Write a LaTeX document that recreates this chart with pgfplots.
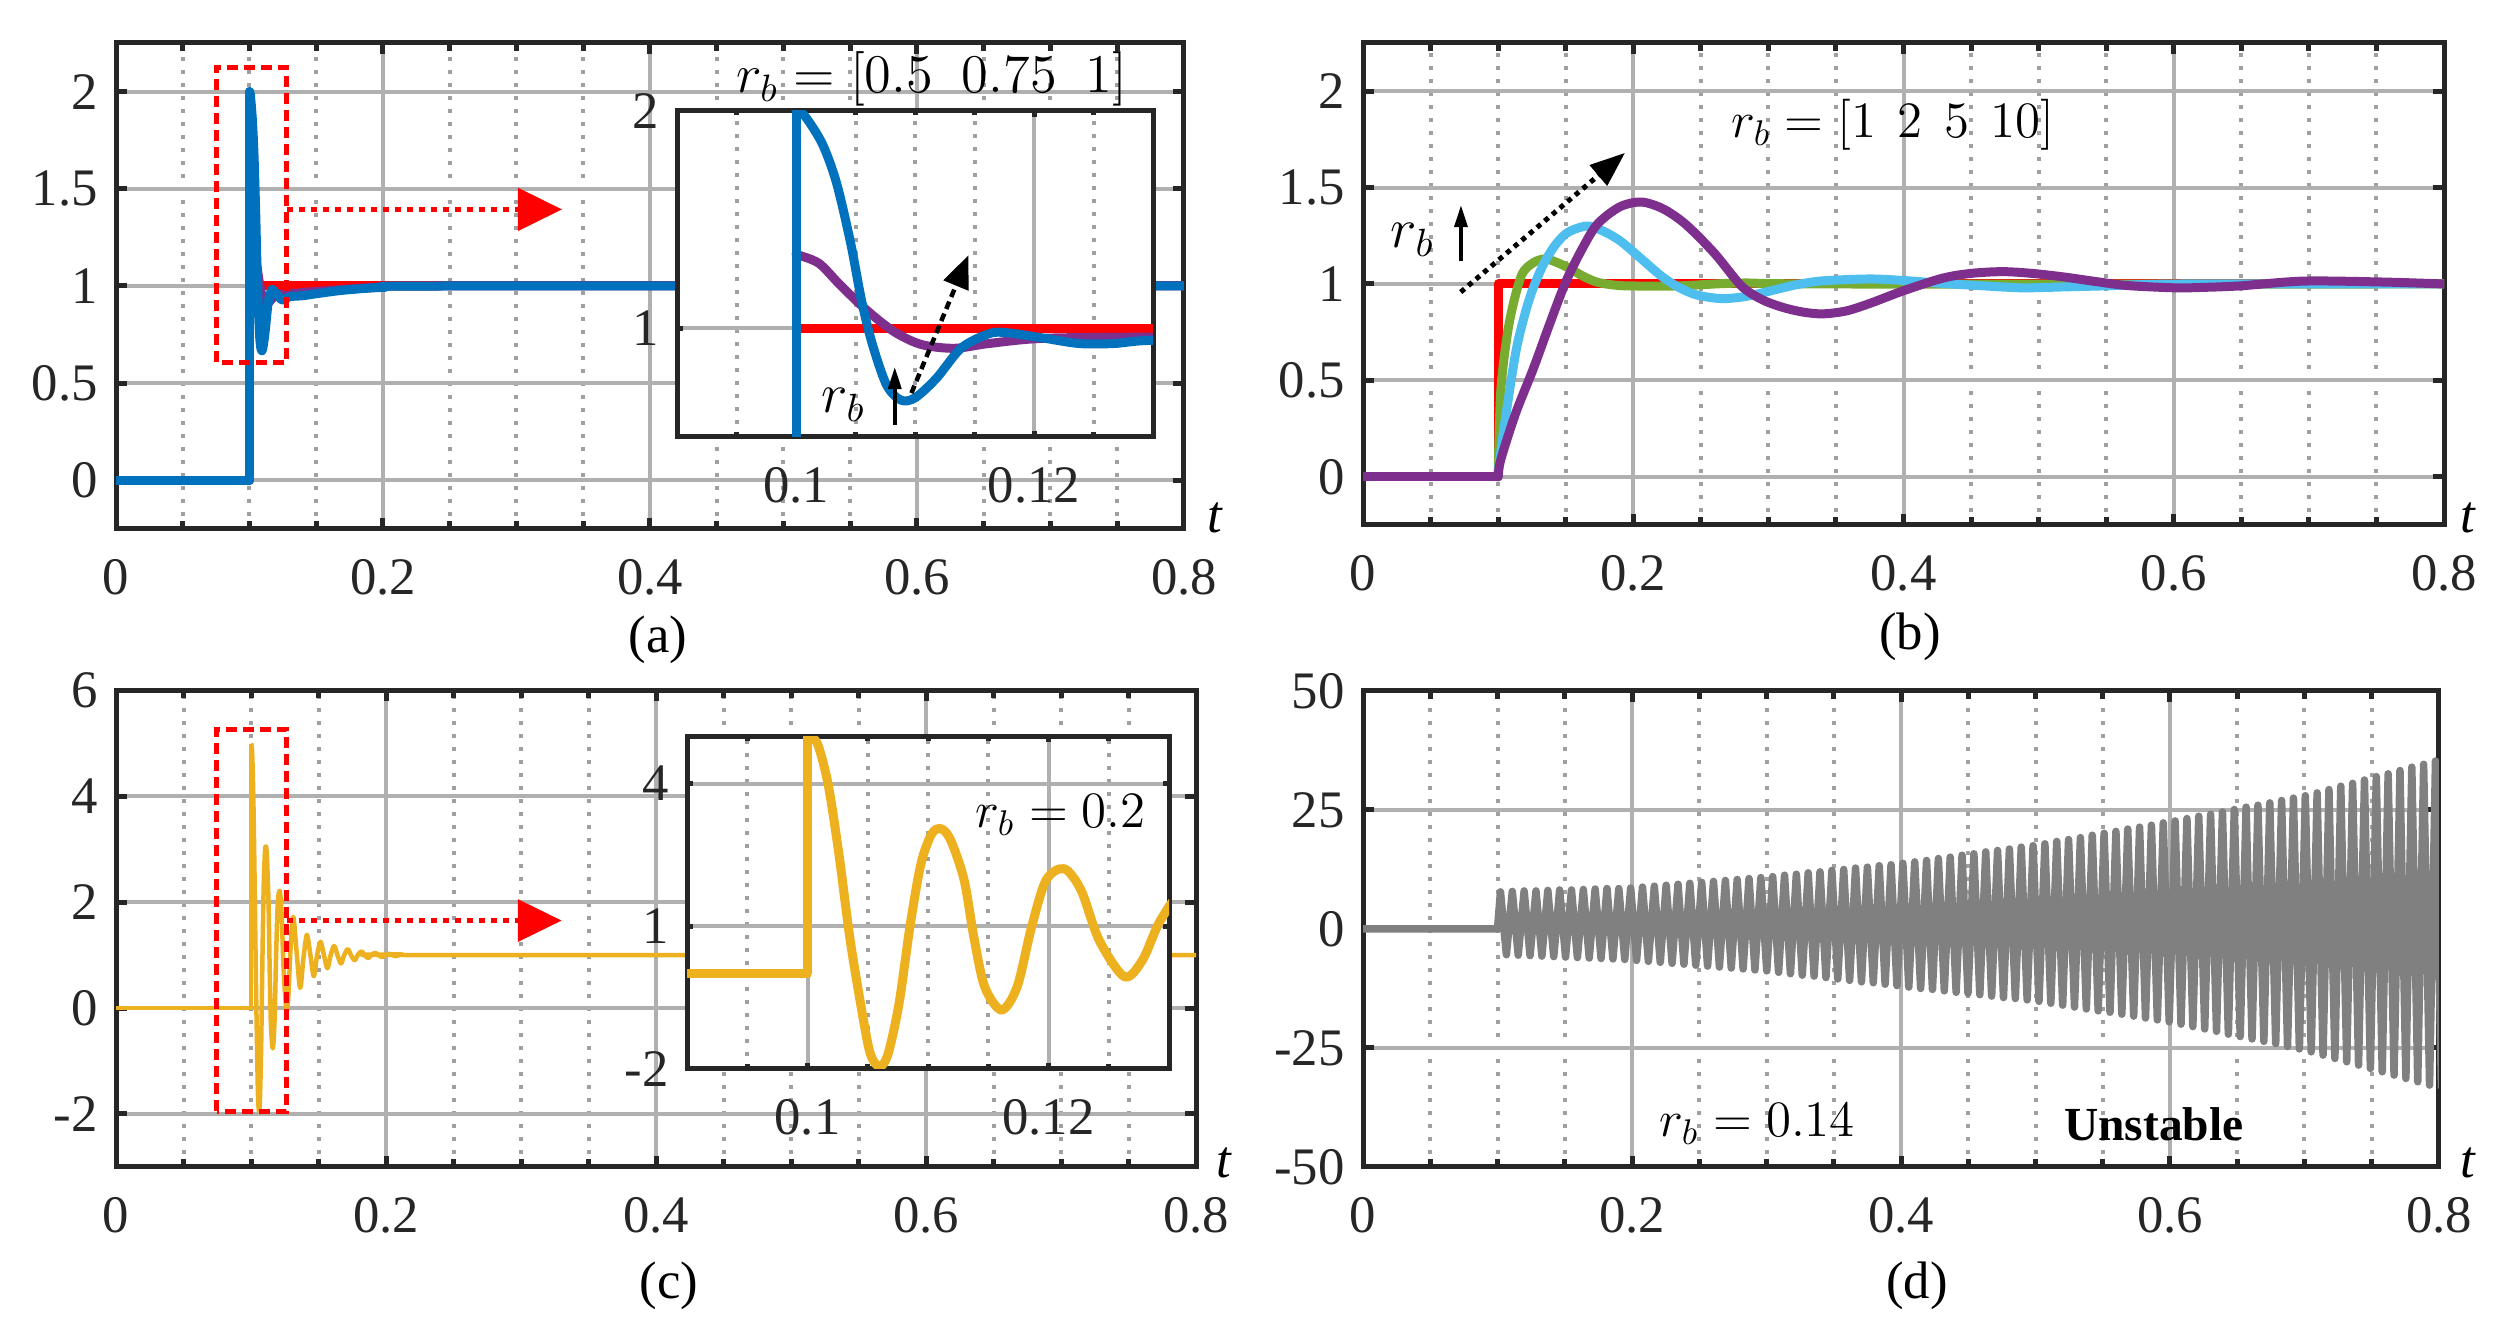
\RequirePackage{fix-cm}
\documentclass[border=0pt]{standalone}
\usepackage[no-math]{fontspec}
\setmainfont{Liberation Serif}
\usepackage{pgfplots}
\pgfplotsset{compat=1.18}
\usepackage{pgfplotstable}
\usetikzlibrary{arrows.meta}

\definecolor{mblue}{HTML}{0072BD}
\definecolor{mpurple}{HTML}{7E2F8E}
\definecolor{mgreen}{HTML}{77AC30}
\definecolor{mcyan}{HTML}{4DBEEE}
\definecolor{myellow}{HTML}{EDB120}
\definecolor{mgray}{HTML}{808080}
\definecolor{mred}{HTML}{FF0000}
\definecolor{axcol}{HTML}{262626}
\definecolor{gridcol}{HTML}{B0B0B0}
\definecolor{dotcol}{HTML}{A0A0A0}

\newcommand{\lbl}{\fontsize{15}{18}\selectfont}
\newcommand{\mlbl}{\fontsize{14.5}{17}\selectfont}

\pgfplotsset{
  panel/.style={
    scale only axis, anchor=south west,
    axis line style={line width=0.5mm, draw=axcol},
    tick style={line width=0.5mm, draw=axcol},
    tick align=inside,
    major tick length=1.1mm, minor tick length=0.8mm,
    xmajorgrids, xminorgrids, ymajorgrids,
    major grid style={line width=0.4mm, draw=gridcol, solid},
    minor grid style={line width=0.4mm, draw=dotcol, dash pattern=on 0.4mm off 0.9mm},
    tick label style={font=\lbl, text=axcol},
    /pgf/number format/assume math mode=true,
    xticklabel style={yshift=-1.8mm},
    yticklabel style={xshift=-0.6mm},
    clip mode=individual,
    axis background/.style={fill=white},
  },
  tpanel/.style={panel, xmin=0, xmax=0.8, xtick={0,0.2,0.4,0.6,0.8}, minor x tick num=3},
  inset/.style={panel, major tick length=0.6mm, minor tick length=0.45mm,
    xmin=0.09, xmax=0.13, xtick={0.1,0.12},
    minor xtick={0.095,0.105,0.11,0.115,0.125}},
  curve/.style={line width=0.9mm, line join=round, line cap=round},
}

% (a) responses after the step, r_b = 0.5 / 0.75 / 1
\pgfplotstableread{
t y
0.1 2.0
0.1007 1.98
0.1022 1.85
0.1034 1.67
0.1046 1.39
0.1055 1.13
0.1064 0.93
0.1076 0.74
0.1088 0.67
0.1100 0.68
0.1118 0.77
0.1139 0.91
0.1162 0.975
0.1177 0.98
0.1208 0.955
0.1238 0.93
0.1267 0.93
0.1300 0.945
0.1400 0.95
0.1500 0.96
0.1700 0.978
0.2000 0.993
0.2500 1.0
0.8000 1.0
}\ablue
\pgfplotstableread{
t y
0.1 1.34
0.1019 1.30
0.1037 1.20
0.1058 1.09
0.1082 0.986
0.1105 0.926
0.1133 0.908
0.1162 0.93
0.1208 0.954
0.1300 0.96
0.1500 0.972
0.2000 0.995
0.2500 1.0
0.8000 1.0
}\apurple

% (b) r_b = 1 2 5 10
\pgfplotstableread{
t y
0.1 0
0.102 0.45
0.108 0.79
0.117 1.04
0.126 1.11
0.135 1.13
0.144 1.11
0.153 1.08
0.163 1.04
0.173 1.01
0.185 0.995
0.197 0.99
0.233 0.99
0.28 1.005
0.35 1.0
0.8 1.0
}\bgreen
\pgfplotstableread{
t y
0.1 0
0.101 0.08
0.107 0.38
0.114 0.68
0.123 0.92
0.132 1.08
0.141 1.19
0.150 1.26
0.159 1.29
0.1675 1.30
0.179 1.27
0.191 1.22
0.206 1.13
0.221 1.04
0.233 0.985
0.245 0.947
0.257 0.93
0.268 0.924
0.283 0.935
0.298 0.958
0.32 0.995
0.34 1.016
0.375 1.026
0.40 1.018
0.429 1.003
0.46 0.99
0.488 0.98
0.52 0.985
0.548 0.99
0.607 1.0
0.8 1.0
}\bcyan
\pgfplotstableread{
t y
0.1 0
0.102 0.09
0.113 0.33
0.126 0.56
0.138 0.79
0.150 1.01
0.162 1.18
0.1734 1.31
0.19 1.40
0.206 1.425
0.222 1.39
0.2387 1.31
0.26 1.16
0.28 0.99
0.295 0.92
0.31 0.88
0.325 0.855
0.34 0.845
0.3575 0.86
0.3754 0.90
0.40 0.965
0.4288 1.03
0.45 1.055
0.4734 1.064
0.495 1.055
0.518 1.037
0.54 1.015
0.5655 0.992
0.6011 0.98
0.62 0.982
0.6487 0.99
0.6962 1.015
0.7556 1.01
0.8 1.0
}\bpurple

% (c) r_b = 0.2
\pgfplotstableread{
t y
0.1 4.99
0.1008 4.85
0.1017 4.0
0.1026 2.53
0.1035 0.78
0.1044 -0.62
0.1052 -1.67
0.1060 -1.95
0.1067 -1.67
0.1076 -0.62
0.1085 0.99
0.1094 2.3
0.1103 2.94
0.1111 3.05
0.1119 2.8
0.1130 1.97
0.1138 0.78
0.1147 -0.27
0.1161 -0.76
0.1174 -0.27
0.1186 0.99
0.1198 1.97
0.1213 2.21
0.1227 1.76
0.1242 0.71
0.1263 -0.06
0.1278 0.29
0.1293 1.13
0.1313 1.72
0.1338 1.05
0.1364 0.38
0.1389 0.95
0.1414 1.38
0.1440 1.0
0.1465 0.6
0.1490 1.0
0.1515 1.25
0.1540 1.0
0.1566 0.75
0.1590 1.0
0.1616 1.17
0.1640 1.0
0.1667 0.84
0.1690 1.0
0.1717 1.11
0.1740 1.0
0.1768 0.9
0.1790 1.0
0.1818 1.07
0.1840 1.0
0.1869 0.94
0.1890 1.0
0.1920 1.04
0.1945 1.0
0.1970 0.96
0.2000 1.0
0.2020 1.025
0.2070 0.98
0.2120 1.01
0.2200 1.0
0.8000 1.0
}\cyel

\begin{document}
\begin{tikzpicture}
\path[use as bounding box] (0,0) rectangle (251.7mm,132.8mm);

% ---------------- (a)
\begin{axis}[tpanel, at={(11.6mm,79.9mm)}, width=106.8mm, height=48.6mm,
  ymin=-0.25, ymax=2.25, ytick={0,0.5,1,1.5,2}]
  \addplot[curve, mred] coordinates {(0,0)(0.1,0)(0.1,1)(0.8,1)};
  \addplot[curve, mpurple] coordinates {(0,0)(0.1,0)(0.1,1.34)};
  \addplot[curve, mpurple, smooth, tension=0.5] table {\apurple};
  \addplot[curve, mblue] coordinates {(0,0)(0.1,0)(0.1,2.0)};
  \addplot[curve, mblue, smooth, tension=0.5] table {\ablue};
  \draw[mred, line width=0.5mm, dash pattern=on 1.1mm off 0.6mm]
    (axis cs:0.0753,0.607) rectangle (axis cs:0.1278,2.125);
  \draw[mred, line width=0.5mm, dash pattern=on 0.6mm off 0.6mm]
    (axis cs:0.1278,1.394) -- (axis cs:0.301,1.394);
  \fill[mred] (axis cs:0.301,1.282) -- (axis cs:0.334,1.394) -- (axis cs:0.301,1.506) -- cycle;
  \node[font=\fontsize{15.5}{18}\selectfont] at (axis cs:0.611,2.063) {$r_b=[0.5\ \;0.75\ \;1]$};
\end{axis}
\begin{axis}[inset, at={(67.7mm,89.1mm)}, width=47.6mm, height=32.6mm,
  ymin=0.5, ymax=2, ytick={1,2}]
  \addplot[curve, mred] coordinates {(0.09,0)(0.1,0)(0.1,1)(0.13,1)};
  \addplot[curve, mpurple] coordinates {(0.09,0)(0.1,0)(0.1,1.34)};
  \addplot[curve, mpurple, smooth, tension=0.5] table {\apurple};
  \addplot[curve, mblue] coordinates {(0.09,0)(0.1,0)(0.1,2.0)};
  \addplot[curve, mblue, smooth, tension=0.5] table {\ablue};
  \draw[-{Triangle[length=3.3mm,width=2.6mm]}, line width=0.45mm, dash pattern=on 0.8mm off 0.5mm]
    (axis cs:0.1097,0.702) -- (axis cs:0.1145,1.337);
  \draw[-{Triangle[length=2.2mm,width=1.3mm]}, line width=0.35mm]
    (axis cs:0.1083,0.555) -- (axis cs:0.1083,0.822);
  \node[font=\fontsize{16}{18}\selectfont] at (axis cs:0.104,0.647) {$r_b$};
\end{axis}

% ---------------- (b)
\begin{axis}[tpanel, at={(136.3mm,80.3mm)}, width=108.1mm, height=48.2mm,
  ymin=-0.25, ymax=2.25, ytick={0,0.5,1,1.5,2}]
  \addplot[curve, mred] coordinates {(0,0)(0.1,0)(0.1,1)(0.8,1)};
  \addplot[curve, mgreen, smooth, tension=0.5] table {\bgreen};
  \addplot[curve, mcyan, smooth, tension=0.5] table {\bcyan};
  \addplot[curve, mpurple] coordinates {(0,0)(0.1,0)};
  \addplot[curve, mpurple, smooth, tension=0.5] table {\bpurple};
  \node[font=\mlbl] at (axis cs:0.392,1.825) {$r_b=[1\ \,2\ \,5\ \,10]$};
  \node[font=\fontsize{16}{18}\selectfont] at (axis cs:0.0366,1.229) {$r_b$};
  \draw[-{Triangle[length=2.2mm,width=1.3mm]}, line width=0.35mm]
    (axis cs:0.0725,1.118) -- (axis cs:0.0725,1.409);
  \draw[-{Triangle[length=3.5mm,width=2.6mm]}, line width=0.5mm, dash pattern=on 0.5mm off 0.5mm]
    (axis cs:0.0723,0.958) -- (axis cs:0.1939,1.68);
\end{axis}

% ---------------- (c)
\begin{axis}[tpanel, at={(11.6mm,16.1mm)}, width=108.0mm, height=47.7mm,
  ymin=-3, ymax=6, ytick={-2,0,2,4,6}]
  \addplot[line width=0.45mm, myellow, line join=round] coordinates {(0,0)(0.1,0)(0.1,4.99)};
  \addplot[line width=0.45mm, myellow, line join=round, smooth, tension=0.5] table {\cyel};
  \draw[mred, line width=0.5mm, dash pattern=on 1.1mm off 0.6mm]
    (axis cs:0.0746,-1.95) rectangle (axis cs:0.1264,5.25);
  \draw[mred, line width=0.5mm, dash pattern=on 0.6mm off 0.6mm]
    (axis cs:0.1264,1.65) -- (axis cs:0.2976,1.65);
  \fill[mred] (axis cs:0.2976,1.245) -- (axis cs:0.330,1.65) -- (axis cs:0.2976,2.055) -- cycle;
\end{axis}
\begin{axis}[inset, at={(68.7mm,25.9mm)}, width=48.2mm, height=33.3mm,
  ymin=-2, ymax=5, ytick={-2,1,4}]
  \addplot[curve, myellow] coordinates {(0.09,0)(0.1,0)(0.1,4.99)};
  \addplot[curve, myellow, smooth, tension=0.5] table {\cyel};
  \node[font=\mlbl] at (axis cs:0.121,3.34) {$r_b=0.2$};
\end{axis}

% ---------------- (d)
\begin{axis}[tpanel, at={(136.3mm,16.1mm)}, width=107.6mm, height=47.6mm,
  ymin=-50, ymax=50, ytick={-50,-25,0,25,50}]
  \addplot[line width=0.75mm, mgray, line join=round] coordinates {
  (0,0)(0.1,0)
  (0.1022,7.8)(0.1066,-5.4)(0.1110,7.9)(0.1154,-5.5)(0.1198,8.0)(0.1242,-5.6)
  (0.1286,8.0)(0.1330,-5.7)(0.1374,8.1)(0.1418,-5.8)(0.1462,8.2)(0.1506,-5.9)
  (0.1550,8.2)(0.1594,-6.0)(0.1638,8.3)(0.1682,-6.1)(0.1726,8.4)(0.1770,-6.2)
  (0.1814,8.5)(0.1858,-6.3)(0.1902,8.5)(0.1946,-6.4)(0.1990,8.6)(0.2034,-6.6)
  (0.2078,8.8)(0.2122,-6.8)(0.2166,9.0)(0.2210,-7.0)(0.2254,9.2)(0.2298,-7.2)
  (0.2342,9.4)(0.2386,-7.4)(0.2430,9.6)(0.2474,-7.6)(0.2518,9.8)(0.2562,-7.8)
  (0.2606,10.0)(0.2650,-8.0)(0.2694,10.2)(0.2738,-8.2)(0.2782,10.4)(0.2826,-8.4)
  (0.2870,10.6)(0.2914,-8.6)(0.2958,10.8)(0.3002,-8.8)(0.3046,11.0)(0.3090,-9.1)
  (0.3134,11.3)(0.3178,-9.4)(0.3222,11.5)(0.3266,-9.7)(0.3310,11.8)(0.3354,-9.9)
  (0.3398,12.0)(0.3442,-10.2)(0.3486,12.3)(0.3530,-10.5)(0.3574,12.5)(0.3618,-10.8)
  (0.3662,12.8)(0.3706,-11.1)(0.3750,13.0)(0.3794,-11.3)(0.3838,13.3)(0.3882,-11.6)
  (0.3926,13.5)(0.3970,-11.9)(0.4014,13.8)(0.4058,-12.2)(0.4102,14.1)(0.4146,-12.5)
  (0.4190,14.4)(0.4234,-12.7)(0.4278,14.8)(0.4322,-13.0)(0.4366,15.1)(0.4410,-13.3)
  (0.4454,15.5)(0.4498,-13.5)(0.4542,15.8)(0.4586,-13.8)(0.4630,16.2)(0.4674,-14.1)
  (0.4718,16.5)(0.4762,-14.4)(0.4806,16.8)(0.4850,-14.6)(0.4894,17.2)(0.4938,-14.9)
  (0.4982,17.5)(0.5026,-15.2)(0.5070,17.9)(0.5114,-15.6)(0.5158,18.4)(0.5202,-16.0)
  (0.5246,18.8)(0.5290,-16.4)(0.5334,19.2)(0.5378,-16.8)(0.5422,19.7)(0.5466,-17.2)
  (0.5510,20.1)(0.5554,-17.5)(0.5598,20.5)(0.5642,-17.9)(0.5686,21.0)(0.5730,-18.3)
  (0.5774,21.4)(0.5818,-18.7)(0.5862,21.8)(0.5906,-19.1)(0.5950,22.3)(0.5994,-19.5)
  (0.6038,22.7)(0.6082,-20.0)(0.6126,23.2)(0.6170,-20.5)(0.6214,23.7)(0.6258,-21.0)
  (0.6302,24.1)(0.6346,-21.5)(0.6390,24.6)(0.6434,-22.1)(0.6478,25.1)(0.6522,-22.6)
  (0.6566,25.6)(0.6610,-23.1)(0.6654,26.0)(0.6698,-23.6)(0.6742,26.5)(0.6786,-24.1)
  (0.6830,27.0)(0.6874,-24.7)(0.6918,27.5)(0.6962,-25.2)(0.7006,28.0)(0.7050,-25.8)
  (0.7094,28.6)(0.7138,-26.5)(0.7182,29.3)(0.7226,-27.2)(0.7270,30.0)(0.7314,-27.9)
  (0.7358,30.6)(0.7402,-28.6)(0.7446,31.3)(0.7490,-29.3)(0.7534,32.0)(0.7578,-30.0)
  (0.7622,32.6)(0.7666,-30.7)(0.7710,33.3)(0.7754,-31.4)(0.7798,34.0)(0.7842,-32.1)
  (0.7886,34.6)(0.7930,-32.8)(0.7974,35.3)(0.8018,-33.5)};
  \node[font=\mlbl] at (axis cs:0.293,-41) {$r_b=0.14$};
  \node[font=\fontsize{13.5}{16}\selectfont\bfseries] at (axis cs:0.588,-41) {Unstable};
\end{axis}

% captions and t labels
\node[font=\lbl] at (65.8mm,68.8mm) {(a)};
\node[font=\lbl] at (191.0mm,69.1mm) {(b)};
\node[font=\lbl] at (66.9mm,4.2mm) {(c)};
\node[font=\lbl] at (191.7mm,4.2mm) {(d)};
\node[font=\lbl\itshape, anchor=base] at (121.5mm,79.5mm) {t};
\node[font=\lbl\itshape, anchor=base] at (246.8mm,79.5mm) {t};
\node[font=\lbl\itshape, anchor=base] at (122.4mm,15.0mm) {t};
\node[font=\lbl\itshape, anchor=base] at (246.8mm,15.0mm) {t};
\end{tikzpicture}
\end{document}
